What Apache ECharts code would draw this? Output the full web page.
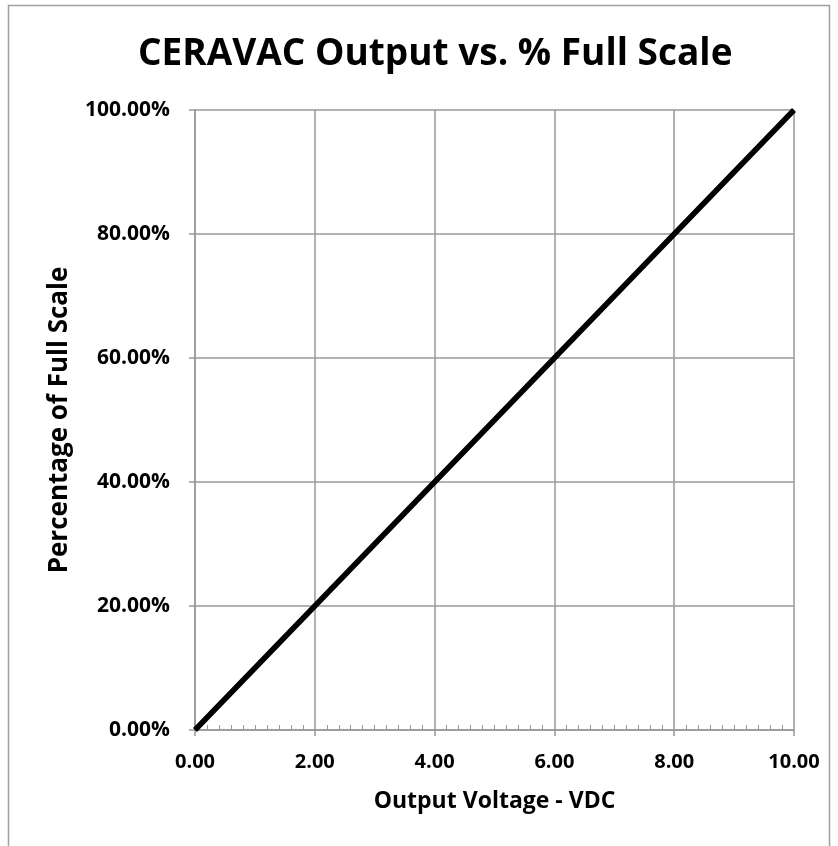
<!DOCTYPE html>
<html>
<head>
	<meta charset="utf-8">
	<title>CERAVAC Output vs. % Full Scale</title>
	<script src="https://cdn.jsdelivr.net/npm/echarts@6/dist/echarts.min.js"></script>
	<style>
		body {
			margin: 0;
			overflow: hidden;
			background: #fff;
		}

		#chart {
			width: 838px;
			height: 846px;
		}
	</style>
</head>
<body>
	<div id="chart"></div>
	<script>
		const titleText = 'CERAVAC Output vs. % Full Scale';
		const xAxisName = 'Output Voltage - VDC';
		const yAxisName = 'Percentage of Full Scale';
		const voltage = [0, 2, 4, 6, 8, 10];
		const percentFull = [0, 0.2, 0.4, 0.6, 0.8, 1.0];

		const font = '"Open Sans", "Noto Sans", sans-serif';
		const gridColor = '#989898';

		const chart = echarts.init(document.getElementById('chart'));
		const option = {
			animation: false,
			title: {
				text: titleText,
				left: 133,
				top: 31,
				textStyle: {
					fontFamily: font,
					fontWeight: 'bold',
					fontSize: 37,
					color: '#000'
				}
			},
			graphic: [{
				type: 'rect',
				shape: { x: 8.5, y: 5.5, width: 821, height: 860 },
				style: { fill: 'none', stroke: '#a0a0a0', lineWidth: 1.5 },
				silent: true
			}],
			grid: {
				left: 195,
				right: 44,
				top: 110,
				bottom: 116
			},
			xAxis: [{
				type: 'value',
				min: 0,
				max: 10,
				interval: 2,
				name: xAxisName,
				nameLocation: 'middle',
				nameGap: 60,
				nameMoveOverlap: false,
				nameTextStyle: {
					fontFamily: font,
					fontWeight: 'bold',
					fontSize: 23,
					color: '#000'
				},
				axisLine: { lineStyle: { color: gridColor, width: 1.5 } },
				axisTick: { show: true, length: 6, lineStyle: { color: gridColor, width: 1.5 } },
				axisLabel: {
					margin: 22,
					fontFamily: font,
					fontWeight: 'bold',
					fontSize: 20,
					color: '#000',
					formatter: v => v.toFixed(2)
				},
				splitLine: { show: true, lineStyle: { color: gridColor, width: 1.5 } }
			}, {
				// second axis only for the small inside ticks
				type: 'value',
				position: 'bottom',
				min: 0,
				max: 10,
				interval: 2,
				axisLine: { show: false },
				axisTick: { show: false, inside: true },
				axisLabel: { show: false },
				splitLine: { show: false },
				minorTick: {
					show: true,
					splitNumber: 10,
					length: 5,
					lineStyle: { color: gridColor, width: 1 }
				}
			}],
			yAxis: {
				type: 'value',
				min: 0,
				max: 1,
				interval: 0.2,
				name: yAxisName,
				nameLocation: 'middle',
				nameGap: 122,
				nameMoveOverlap: false,
				nameTextStyle: {
					fontFamily: font,
					fontWeight: 'bold',
					fontSize: 26,
					color: '#000'
				},
				axisLine: { show: true, lineStyle: { color: gridColor, width: 1.5 } },
				axisTick: { show: true, length: 6, lineStyle: { color: gridColor, width: 1.5 } },
				axisLabel: {
					margin: 25,
					fontFamily: font,
					fontWeight: 'bold',
					fontSize: 21,
					color: '#000',
					formatter: v => (v * 100).toFixed(2) + '%'
				},
				splitLine: { show: true, lineStyle: { color: gridColor, width: 1.5 } }
			},
			series: [{
				type: 'line',
				data: voltage.map((v, i) => [v, percentFull[i]]),
				symbol: 'none',
				lineStyle: { color: '#000', width: 5.5 }
			}]
		};
		chart.setOption(option);
	</script>
</body>
</html>
